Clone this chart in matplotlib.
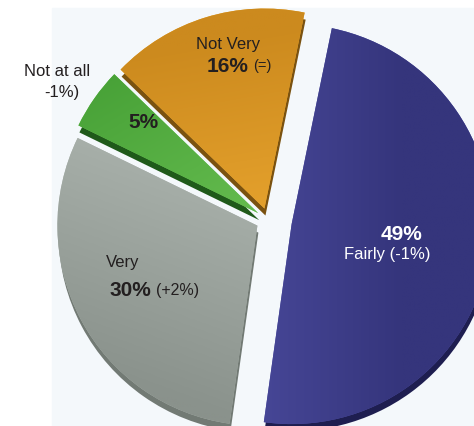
import numpy as np
import matplotlib
matplotlib.use('Agg')
from matplotlib import pyplot as plt
from matplotlib.patches import Rectangle, Wedge
from matplotlib.colors import LinearSegmentedColormap

# survey shares, drawn counter-clockwise from the "Fairly" slice
labels = ['Fairly', 'Not Very', 'Not at all', 'Very']
shares = [49, 16, 5, 30]
changes = ['(-1%)', '(=)', '-1%)', '(+2%)']
explode = [0.12, 0.06, 0.06, 0.06]   # fraction of the radius

light = ['#5252a8', '#eeaa32', '#70c658', '#b0b8b2']
dark = ['#35357c', '#cc8a1e', '#449e34', '#8a928c']
depth = ['#1e1e50', '#7a5210', '#1f5a1a', '#727a74']
grad_angle = [0, 100, 120, 250]

W, H = 474, 426
fig = plt.figure(figsize=(W / 100, H / 100), dpi=100)
ax = fig.add_axes([0, 0, 1, 1])

ax.add_patch(Rectangle((52, 0), W - 52, H - 8, color='#f4f8fb', zorder=0))

center = (268, 206)
radius = 200

# pie() takes explode in data units, so scale by the radius
wedges, _ = ax.pie(shares, startangle=-98, counterclock=True,
                   explode=[e * radius for e in explode],
                   center=center, radius=radius, frame=True,
                   wedgeprops=dict(linewidth=0))
ax.set_xlim(0, W)
ax.set_ylim(0, H)
ax.set_aspect('equal')
ax.axis('off')

xx, yy = np.meshgrid(np.linspace(0, W, 200), np.linspace(0, H, 200))
for i, w in enumerate(wedges):
    # darker copy pushed down gives the thick 3D edge
    sh = Wedge((w.center[0] + 1, w.center[1] - 7), w.r, w.theta1, w.theta2,
               color=depth[i], zorder=1, linewidth=0)
    ax.add_patch(sh)
    w.set_zorder(2)
    w.set_facecolor(light[i])

    a = np.deg2rad(grad_angle[i])
    cx, cy = w.center
    proj = (xx - cx) * np.cos(a) + (yy - cy) * np.sin(a)
    proj = (proj - proj.min()) / (proj.max() - proj.min())
    proj = np.clip((proj - 0.35) / 0.5, 0, 1)
    cmap = LinearSegmentedColormap.from_list('s%d' % i, [light[i], dark[i]])
    im = ax.imshow(proj, extent=(0, W, 0, H), origin='lower', cmap=cmap,
                   aspect='auto', zorder=3, interpolation='bilinear')
    im.set_clip_path(w)

font = 'Liberation Sans'
txt = '#231f20'

ax.text(228, 426 - 45, 'Not Very', ha='center', va='center', fontsize=12,
        family=font, color=txt, zorder=5)
ax.text(249, 426 - 66, '16%', ha='right', va='center', fontsize=15,
        fontweight='bold', family=font, color=txt, zorder=5)
ax.text(253, 426 - 66, changes[1], ha='left', va='center', fontsize=10.5,
        family=font, color=txt, zorder=5)

ax.text(57, 426 - 72, 'Not at all', ha='center', va='center', fontsize=12,
        family=font, color=txt, zorder=5)
ax.text(62, 426 - 92, changes[2], ha='center', va='center', fontsize=12,
        family=font, color=txt, zorder=5)
ax.text(143, 426 - 122, '5%', ha='center', va='center', fontsize=15,
        fontweight='bold', family=font, color=txt, zorder=5)

ax.text(402, 426 - 234, '49%', ha='center', va='center', fontsize=15,
        fontweight='bold', family=font, color='white', zorder=5)
ax.text(387, 426 - 255, 'Fairly ' + changes[0], ha='center', va='center',
        fontsize=12, family=font, color='white', zorder=5)

ax.text(123, 426 - 262, 'Very', ha='center', va='center', fontsize=12,
        family=font, color=txt, zorder=5)
ax.text(151, 426 - 290, '30%', ha='right', va='center', fontsize=15,
        fontweight='bold', family=font, color=txt, zorder=5)
ax.text(156, 426 - 290, changes[3], ha='left', va='center', fontsize=11.5,
        family=font, color=txt, zorder=5)

fig.savefig('out.png', dpi=100)
